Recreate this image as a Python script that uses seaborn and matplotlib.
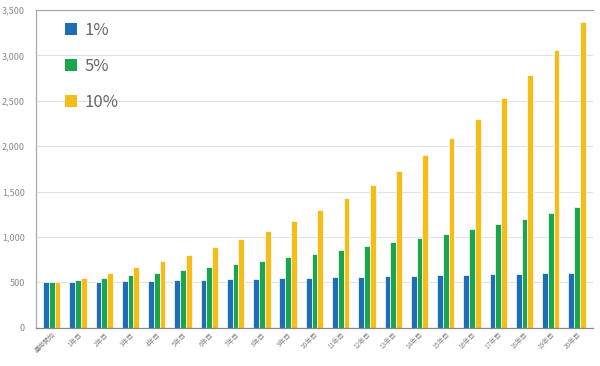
import matplotlib
matplotlib.use("Agg")
import matplotlib.pyplot as plt
import seaborn as sns
import pandas as pd
from matplotlib.ticker import FuncFormatter
from matplotlib.patches import Patch

categories = ["運用開始"] + [f"{i}年目" for i in range(1, 21)]
rate_1 = [500, 505, 510, 515, 520, 526, 531, 536, 541, 547, 552, 558, 563, 569, 575, 580, 586, 592, 598, 604, 610]
rate_5 = [500, 525, 551, 579, 608, 638, 670, 704, 739, 776, 814, 855, 898, 943, 990, 1039, 1091, 1146, 1203, 1263, 1327]
rate_10 = [500, 550, 605, 666, 732, 805, 886, 974, 1072, 1179, 1297, 1427, 1569, 1726, 1899, 2089, 2297, 2527, 2780, 3058, 3364]
series = ["1%", "5%", "10%"]
colors = ["#1f6db5", "#1aa64f", "#f5bd17"]

rows = []
for name, vals in zip(series, [rate_1, rate_5, rate_10]):
    for c, v in zip(categories, vals):
        rows.append({"cat": c, "series": name, "value": v})
df = pd.DataFrame(rows)

sns.set_theme(style="white")
plt.rcParams['font.family'] = ['Noto Sans CJK JP', 'DejaVu Sans']

fig = plt.figure(figsize=(6, 3.66), dpi=100)
ax = fig.add_axes([0.06, 0.104, 0.928, 0.869])
sns.barplot(data=df, x="cat", y="value", hue="series", hue_order=series,
            palette=colors, width=0.66, gap=0.0, ax=ax, legend=False,
            saturation=1, errorbar=None, linewidth=0.5, edgecolor="white")

ax.set_ylim(0, 3500)
ax.set_yticks(range(0, 3501, 500))
ax.yaxis.set_major_formatter(FuncFormatter(lambda v, p: f"{int(v):,}"))
ax.grid(axis="y", color="#e2e2e2", linewidth=0.8)
ax.set_axisbelow(True)
ax.set_xlabel("")
ax.set_ylabel("")
ax.set_xlim(-0.6, 20.6)
ax.tick_params(axis="y", labelsize=6.5, labelcolor="#888888", length=0, pad=8)
ax.tick_params(axis="x", labelsize=4.8, labelcolor="#888888", length=0, pad=2)
for lbl in ax.get_xticklabels():
    lbl.set_rotation(45)
    lbl.set_ha("right")
    lbl.set_rotation_mode("anchor")

for s in ["left", "top", "bottom"]:
    ax.spines[s].set_color("#aaaaaa")
    ax.spines[s].set_linewidth(0.9)
ax.spines["bottom"].set_color("#888888")
ax.spines["right"].set_visible(False)

handles = [Patch(facecolor=c, edgecolor="none", label=s) for c, s in zip(colors, series)]
leg = ax.legend(handles=handles, loc="upper left", bbox_to_anchor=(0.025, 1.01),
                frameon=False, fontsize=12, labelspacing=1.15,
                handlelength=0.75, handleheight=0.75, handletextpad=0.45)
for t in leg.get_texts():
    t.set_color("#666666")

fig.savefig("out.png", dpi=100)
